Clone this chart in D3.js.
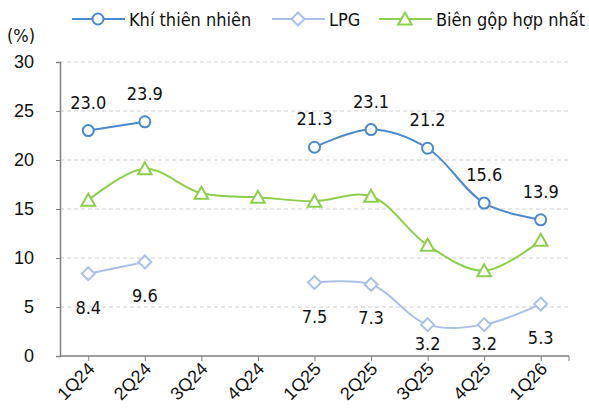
<!DOCTYPE html>
<html><head><meta charset="utf-8">
<script src="https://cdn.jsdelivr.net/npm/d3@7"></script>
<style>body{margin:0;background:#fff}svg{display:block}text{font-family:"DejaVu Sans Condensed","DejaVu Sans",sans-serif}</style>
</head><body><svg id="c" width="589" height="414"></svg>
<script>
const categories = ["1Q24","2Q24","3Q24","4Q24","1Q25","2Q25","3Q25","4Q25","1Q26"];
const khi = [23.0, 23.9, null, null, 21.3, 23.1, 21.2, 15.6, 13.9];
const lpg = [8.4, 9.6, null, null, 7.5, 7.3, 3.2, 3.2, 5.3];
const bien = [15.9, 19.1, 16.6, 16.2, 15.8, 16.3, 11.3, 8.7, 11.8];
const yTicks = [0, 5, 10, 15, 20, 25, 30];
const seriesNames = ["Khí thiên nhiên", "LPG", "Biên gộp hợp nhất"];

const svg = d3.select("#c");
const L = 60, R = 569, T = 62, B = 356;
const x = d3.scalePoint().domain(categories).range([L, R]).padding(0.5);
const y = d3.scaleLinear().domain([0, 30]).range([B, T]);
const FS = 18;

// gridlines
svg.append("g").selectAll("line").data(yTicks.filter(d => d > 0)).join("line")
  .attr("x1", L).attr("x2", R).attr("y1", d => y(d)).attr("y2", d => y(d))
  .attr("stroke", "#cfcfcf").attr("stroke-dasharray", "4,3").attr("stroke-width", 1);

// y axis
const ya = svg.append("g").attr("transform", `translate(${L},0)`)
  .call(d3.axisLeft(y).tickValues(yTicks).tickSize(4).tickPadding(22));
ya.select(".domain").attr("stroke", "#7f7f7f").attr("stroke-width", 1.5);
ya.selectAll(".tick line").attr("stroke", "#7f7f7f");
ya.selectAll("text").attr("font-size", FS).attr("fill", "#111").style("font-family", "inherit");

// x axis
const xa = svg.append("g").attr("transform", `translate(0,${B})`)
  .call(d3.axisBottom(x).tickSize(5).tickSizeOuter(0));
xa.select(".domain").attr("stroke", "#7f7f7f").attr("stroke-width", 1.5).attr("d", `M${L},0H${R}`);
xa.selectAll(".tick line").attr("stroke", "#7f7f7f");
xa.append("line").attr("x1", R).attr("x2", R).attr("y1", 0).attr("y2", 5).attr("stroke", "#7f7f7f");
xa.selectAll(".tick text").attr("font-size", FS).attr("fill", "#111")
  .attr("text-anchor", "end").attr("dy", 0).attr("y", 0)
  .attr("transform", "translate(7,14) rotate(-45)").style("font-family", "inherit");

svg.append("text").attr("x", 7).attr("y", 42).attr("font-size", FS).attr("fill", "#111").text("(%)");

const cfg = [
  {data: khi, color: "#4a89d0", marker: "circle", label: "above"},
  {data: lpg, color: "#a9c1ea", marker: "diamond", label: "below"},
  {data: bien, color: "#8ccf4b", marker: "triangle", label: null}
];

function drawMarker(g, type, color) {
  if (type === "circle") g.append("circle").attr("r", 5.5);
  else if (type === "diamond") g.append("path").attr("d", "M0,-6.5L6.5,0L0,6.5L-6.5,0Z");
  else g.append("path").attr("d", "M0,-6.5L6.8,5.5L-6.8,5.5Z");
  g.selectAll("*").attr("fill", "#fff").attr("stroke", color).attr("stroke-width", 2);
}

const line = d3.line().defined(d => d.v != null).x(d => x(d.c)).y(d => y(d.v))
  .curve(d3.curveCatmullRom.alpha(0.5));

cfg.slice().reverse().forEach(s => {
  const pts = categories.map((c, i) => ({c, v: s.data[i]}));
  svg.append("path").datum(pts).attr("d", line).attr("fill", "none")
    .attr("stroke", s.color).attr("stroke-width", 2);
});
cfg.slice().reverse().forEach(s => {
  const pts = categories.map((c, i) => ({c, v: s.data[i]})).filter(d => d.v != null);
  pts.forEach(d => {
    const g = svg.append("g").attr("transform", `translate(${x(d.c)},${y(d.v)})`);
    drawMarker(g, s.marker, s.color);
    if (s.label) {
      let ly = y(d.v) + (s.label === "above" ? -22 : 40);
      if (ly > B - 6) ly = B - 6;
      svg.append("text").attr("x", x(d.c)).attr("y", ly)
        .attr("text-anchor", "middle").attr("font-size", FS).attr("fill", "#111")
        .text(d.v.toFixed(1));
    }
  });
});

// legend
const leg = [{x: 72, s: 0}, {x: 272, s: 1}, {x: 379, s: 2}];
leg.forEach(l => {
  const s = cfg[l.s];
  const g = svg.append("g").attr("transform", `translate(${l.x},19)`);
  g.append("line").attr("x1", 0).attr("x2", 53).attr("stroke", s.color).attr("stroke-width", 2);
  const m = g.append("g").attr("transform", "translate(26,0)");
  drawMarker(m, s.marker, s.color);
  g.append("text").attr("x", 57).attr("y", 6.5).attr("font-size", FS).attr("fill", "#111").text(seriesNames[l.s]);
});
</script></body></html>
